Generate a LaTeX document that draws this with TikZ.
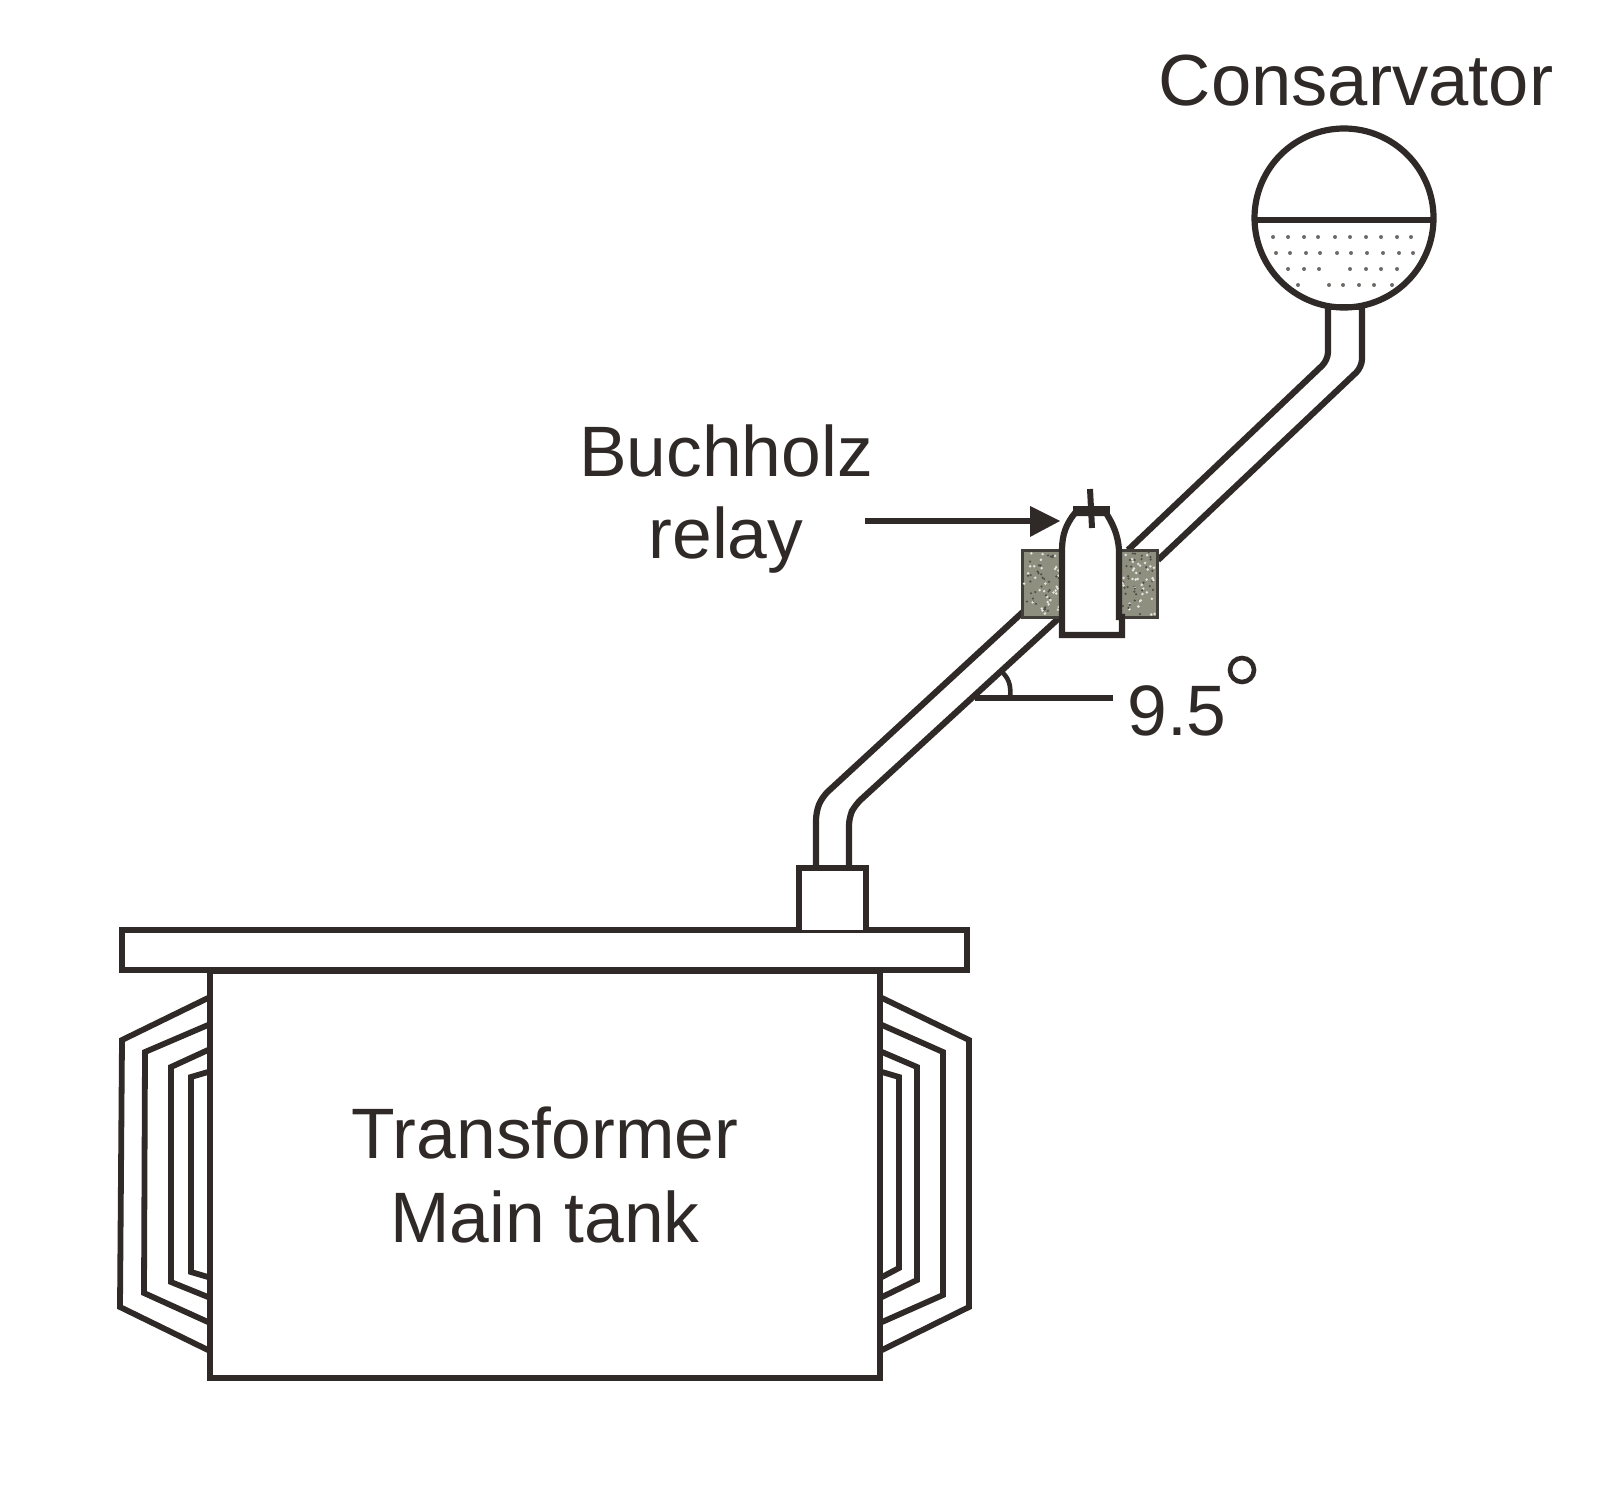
\documentclass[tikz,border=0pt]{standalone}
\usepackage{fontspec}
\setmainfont{Liberation Sans}
\definecolor{ink}{HTML}{2F2A27}
\definecolor{blockgrey}{HTML}{8F8F80}
\begin{document}
\begin{tikzpicture}[x=0.5pt,y=-0.5pt,
  line/.style={draw=ink,line width=3.1pt,line join=miter},
  pipeline/.style={line,rounded corners=4pt},
  finline/.style={draw=ink,line width=2.9pt,line join=miter},
  thinline/.style={draw=ink,line width=2.3pt},
  block/.style={fill=blockgrey,draw=ink!80!blockgrey,line width=1.5pt},
  lab/.style={anchor=base,inner sep=0pt,text=ink,font=\fontsize{35.7}{35.7}\selectfont},
  tdot/.style={fill=ink!70!white,draw=none}]
\useasboundingbox (0,0) rectangle (1604,1487);
% fins
\draw[finline] (208,998)--(122,1040)--(120,1307)--(208,1350);
\draw[finline] (208,1025)--(145,1052)--(144,1293)--(208,1322);
\draw[finline] (208,1050)--(171,1067)--(171,1282)--(208,1297);
\draw[finline] (208,1072)--(191,1077)--(191,1272)--(208,1277);
\draw[finline] (882,998)--(969,1040)--(969,1307)--(882,1350);
\draw[finline] (882,1025)--(943,1052)--(943,1295)--(882,1322);
\draw[finline] (882,1052)--(917,1067)--(917,1280)--(882,1297);
\draw[finline] (882,1072)--(899,1077)--(899,1268)--(882,1277);
% tank, lid, neck
\draw[line,fill=white] (210,971) rectangle (880,1378);
\draw[line,fill=white] (122,930) rectangle (967,970);
\draw[line,fill=white] (799,930)--(799,868)--(866,868)--(866,930);
% lower pipe
\draw[pipeline] (816,868)--(816,812)--(822,797)--(1024,611);
\draw[pipeline] (849,868)--(849,817)--(855,805)--(1059,618);
% upper pipe
\draw[pipeline] (1128,550)--(1328,360)--(1328,307);
\draw[pipeline] (1158,560)--(1362,367)--(1362,307);
% relay
\draw[block] (1022,550) rectangle (1064,617);
\draw[block] (1118,550) rectangle (1157,617);
\pgfmathsetseed{4217}
\foreach \i in {1,...,70}{
  \pgfmathsetmacro\px{1024+rnd*38}\pgfmathsetmacro\py{552+rnd*63}
  \pgfmathsetmacro\qx{1122+rnd*33}\pgfmathsetmacro\qy{552+rnd*63}
  \ifodd\i
    \fill[white!75!blockgrey] (\px,\py) circle (1.4);
    \fill[white!75!blockgrey] (\qx,\qy) circle (1.4);
  \else
    \fill[ink!65!blockgrey] (\px,\py) circle (1.2);
    \fill[ink!65!blockgrey] (\qx,\qy) circle (1.2);
  \fi
}
\draw[line,fill=white] (1062,550)--(1062,635)--(1122,635)--(1122,617)--(1119,617)--(1119,550)
  .. controls (1118,535) and (1113,524) .. (1106,513)--(1075,513)
  .. controls (1066,524) and (1062,535) .. (1062,550)--cycle;
\draw[line,line width=3.6pt] (1073,510)--(1110,510);
\draw[line width=3pt,draw=ink] (1090,489)--(1092,528);
% arrow
\coordinate (arrowstart) at (865,521);
\coordinate (relaytip) at (1060,521);
\draw[thinline,line width=2.6pt] (arrowstart)--(1032,521);
\fill[ink] (relaytip)--(1030,506)--(1030,537)--cycle;
% conservator
\draw[line] (1344,218) circle (89.5);
\draw[line] (1256,220)--(1432,220);
\draw[line] (1328,307)--(1362,307);
\foreach \x in {1273,1288,1304,1318,1335,1350,1366,1381,1397,1411} \fill[tdot] (\x,237) circle (2);
\foreach \x in {1276,1290,1306,1320,1337,1351,1367,1383,1399,1413} \fill[tdot] (\x,253) circle (2);
\foreach \x in {1288,1304,1319,1350,1366,1381,1397} \fill[tdot] (\x,269) circle (2);
\foreach \x in {1298,1329,1343,1359,1374,1392} \fill[tdot] (\x,285) circle (2);
% angle
\coordinate (anglestart) at (975,698);
\coordinate (angleend) at (1113,698);
\draw[thinline,line width=2.6pt] (anglestart)--(angleend);
\draw[thinline] (1003,673) .. controls (1010,680) and (1011,688) .. (1010,698);
% labels
\node[lab,font=\fontsize{36.2}{36.2}\selectfont] (conslabel) at (1356,106) {Consarvator};
\node[lab] (buchlabel) at (726,476) {Buchholz};
\node[lab] (relaylabel) at (726,558) {relay};
\node[lab] (anglelabel) at (1177,735) {9.5};
\draw[thinline] (1242,670) circle (12);
\node[lab] (tanklabel) at (545,1158) {Transformer};
\node[lab] (mainlabel) at (545,1242) {Main tank};
\end{tikzpicture}
\end{document}
